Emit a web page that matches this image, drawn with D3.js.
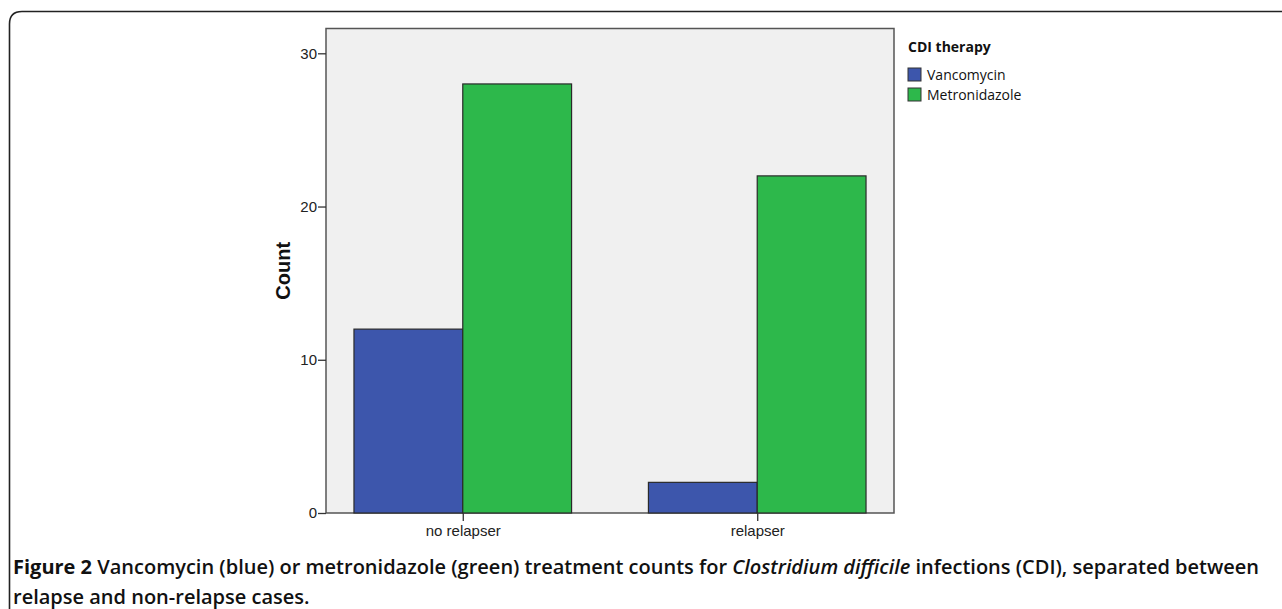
<!DOCTYPE html>
<html>
<head>
<meta charset="utf-8">
<script src="https://cdn.jsdelivr.net/npm/d3@7"></script>
<style>
  body { margin: 0; background: #fff; }
  svg { display: block; }
</style>
</head>
<body>
<svg width="1282" height="609"></svg>
<script>
// data
var groups = ["no relapser", "relapser"];
var therapies = ["Vancomycin", "Metronidazole"];
var vancomycin = [12, 2];
var metronidazole = [28, 22];
var yTicks = [0, 10, 20, 30];
var colors = ["#3d56ac", "#2db84b"];

var svg = d3.select("svg");

// outer figure frame (rounded top-left)
svg.append("path")
    .attr("d", "M9.5,609 L9.5,24 Q9.5,11.5 22,11.5 L1282,11.5")
    .attr("fill", "none")
    .attr("stroke", "#222")
    .attr("stroke-width", 1.6);

// plot area
var pLeft = 326, pRight = 894, pTop = 28.5, pBottom = 513;

var x0 = d3.scaleBand()
    .domain(groups)
    .range([pLeft, pRight])
    .paddingInner(0.261)
    .paddingOuter(0.095);

var x1 = d3.scaleBand()
    .domain(therapies)
    .range([0, x0.bandwidth()]);

var y = d3.scaleLinear()
    .domain([0, 30])
    .range([pBottom, 53.3]);

svg.append("rect")
    .attr("x", pLeft).attr("y", pTop)
    .attr("width", pRight - pLeft).attr("height", pBottom - pTop)
    .attr("fill", "#f0f0f0")
    .attr("stroke", "#555")
    .attr("stroke-width", 1.5);

var rows = groups.map(function(g, i){
  return {group: g, values: [vancomycin[i], metronidazole[i]]};
});

svg.append("g")
  .selectAll("g")
  .data(rows)
  .enter()
  .append("g")
    .attr("transform", function(d){ return "translate(" + x0(d.group) + ",0)" })
  .selectAll("rect")
  .data(function(d){ return d.values.map(function(v, j){ return {t: therapies[j], v: v, c: colors[j]} }) })
  .enter()
  .append("rect")
    .attr("x", function(d){ return x1(d.t) })
    .attr("y", function(d){ return y(d.v) })
    .attr("width", x1.bandwidth())
    .attr("height", function(d){ return pBottom - y(d.v) })
    .attr("fill", function(d){ return d.c })
    .attr("stroke", "#2a2a2a")
    .attr("stroke-width", 1.2);

// axes
var yAxis = svg.append("g")
    .attr("transform", "translate(" + pLeft + ",0)")
    .call(d3.axisLeft(y).tickValues(yTicks).tickSize(8).tickPadding(1));
var xPos = d3.scalePoint()
    .domain(groups)
    .range([x0(groups[0]) + x0.bandwidth() / 2, x0(groups[1]) + x0.bandwidth() / 2]);
var xAxis = svg.append("g")
    .attr("transform", "translate(0," + pBottom + ")")
    .call(d3.axisBottom(xPos).tickSize(8).tickPadding(4));
yAxis.select(".domain").remove();
xAxis.select(".domain").remove();
svg.selectAll(".tick line").attr("stroke", "#333").attr("stroke-width", 1.3);
svg.selectAll(".tick text")
    .attr("fill", "#222")
    .style("font-family", "'Liberation Sans', Arial, sans-serif")
    .style("font-size", "15px");

svg.append("text")
    .attr("transform", "translate(290," + ((pTop + pBottom) / 2) + ") rotate(-90)")
    .attr("text-anchor", "middle")
    .style("font-family", "'Liberation Sans', Arial, sans-serif")
    .style("font-size", "20px")
    .style("font-weight", "bold")
    .attr("fill", "#111")
    .text("Count");

// legend
var legend = svg.append("g");
legend.append("text")
    .attr("x", 908).attr("y", 52)
    .style("font-family", "'Open Sans', sans-serif")
    .style("font-size", "14px")
    .style("font-weight", "bold")
    .attr("fill", "#111")
    .text("CDI therapy");
var li = legend.selectAll(".li")
    .data(therapies)
    .enter()
    .append("g")
    .attr("transform", function(d, i){ return "translate(908," + (68 + i * 20) + ")" });
li.append("rect")
    .attr("width", 13).attr("height", 13)
    .attr("fill", function(d, i){ return colors[i] })
    .attr("stroke", "#333");
li.append("text")
    .attr("x", 19).attr("y", 11.5)
    .style("font-family", "'Open Sans', sans-serif")
    .style("font-size", "14px")
    .attr("fill", "#111")
    .text(function(d){ return d });

// caption
var cap = svg.append("g")
    .style("font-family", "'Open Sans', sans-serif")
    .style("font-size", "20px")
    .attr("fill", "#111");
var l1 = cap.append("text").attr("x", 13).attr("y", 574);
l1.append("tspan").style("font-weight", "700").text("Figure 2 ");
l1.append("tspan").style("font-weight", "600").text("Vancomycin (blue) or metronidazole (green) treatment counts for ");
l1.append("tspan").style("font-weight", "600").style("font-style", "italic").text("Clostridium difficile");
l1.append("tspan").style("font-weight", "600").text(" infections (CDI), separated between");
cap.append("text").attr("x", 13).attr("y", 604)
    .style("font-weight", "600")
    .text("relapse and non-relapse cases.");
</script>
</body>
</html>
